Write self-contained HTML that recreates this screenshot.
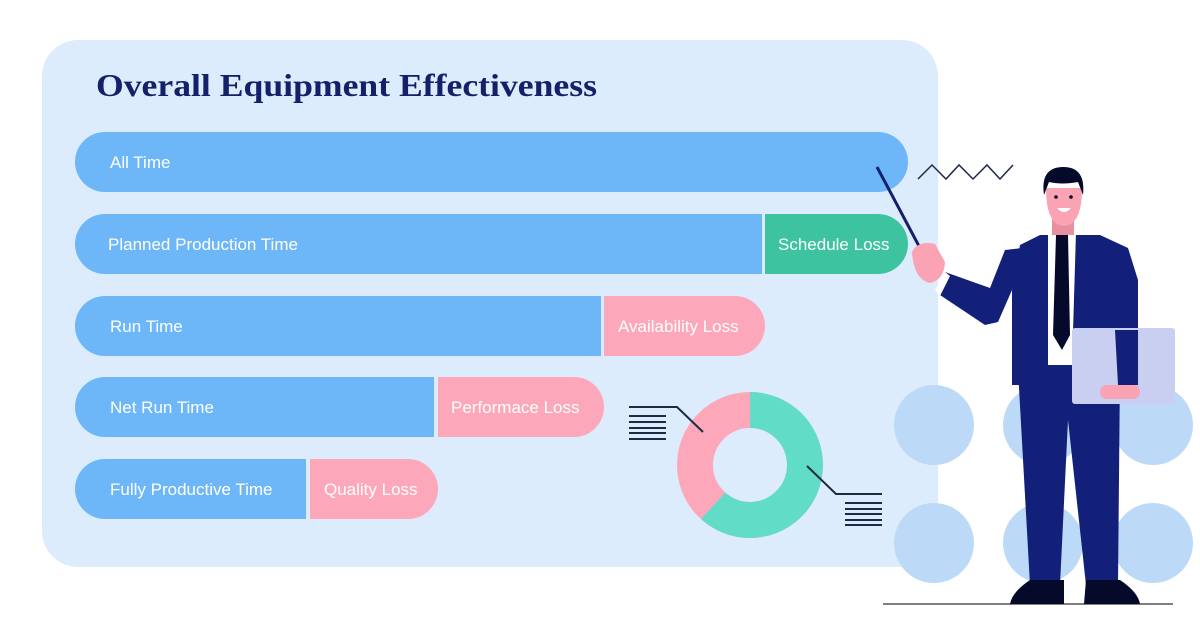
<!DOCTYPE html>
<html><head><meta charset="utf-8"><style>
html,body{margin:0;padding:0;background:#fff;}
svg{display:block;}
text{font-family:"Liberation Sans",sans-serif;}
</style></head><body>
<svg width="1200" height="627" viewBox="0 0 1200 627" xmlns="http://www.w3.org/2000/svg">
<rect x="42" y="40" width="896" height="527" rx="36" fill="#dcecfc"/>
<text x="96" y="96" font-family="Liberation Serif,serif" font-weight="bold" font-size="32" fill="#14206a" textLength="501" lengthAdjust="spacingAndGlyphs" style="font-family:'Liberation Serif',serif">Overall Equipment Effectiveness</text>

<!-- bars -->
<rect x="75" y="132" width="833" height="60" rx="30" fill="#6db7f9"/>
<text x="110" y="168" font-size="17" fill="#fff">All Time</text>

<rect x="765" y="214" width="143" height="60" rx="30" fill="#3ec3a0"/>
<rect x="765" y="214" width="40" height="60" fill="#3ec3a0"/>
<path d="M105 214 H762 V274 H105 A30 30 0 0 1 105 214Z" fill="#6db7f9"/>
<text x="108" y="250" font-size="17" fill="#fff">Planned Production Time</text>
<text x="778" y="250" font-size="17" fill="#fff">Schedule Loss</text>

<rect x="604" y="296" width="161" height="60" rx="30" fill="#fda8ba"/>
<rect x="604" y="296" width="40" height="60" fill="#fda8ba"/>
<path d="M105 296 H601 V356 H105 A30 30 0 0 1 105 296Z" fill="#6db7f9"/>
<text x="110" y="332" font-size="17" fill="#fff">Run Time</text>
<text x="618" y="332" font-size="17" fill="#fff">Availability Loss</text>

<rect x="438" y="377" width="166" height="60" rx="30" fill="#fda8ba"/>
<rect x="438" y="377" width="40" height="60" fill="#fda8ba"/>
<path d="M105 377 H434 V437 H105 A30 30 0 0 1 105 377Z" fill="#6db7f9"/>
<text x="110" y="413" font-size="17" fill="#fff">Net Run Time</text>
<text x="451" y="413" font-size="17" fill="#fff">Performace Loss</text>

<rect x="310" y="459" width="128" height="60" rx="30" fill="#fda8ba"/>
<rect x="310" y="459" width="40" height="60" fill="#fda8ba"/>
<path d="M105 459 H306 V519 H105 A30 30 0 0 1 105 459Z" fill="#6db7f9"/>
<text x="110" y="495" font-size="17" fill="#fff">Fully Productive Time</text>
<text x="324" y="495" font-size="17" fill="#fff">Quality Loss</text>

<!-- donut -->
<g transform="translate(750,465)">
<circle r="55" fill="none" stroke="#fda8ba" stroke-width="36"/>
<circle r="55" fill="none" stroke="#61dcc6" stroke-width="36" stroke-dasharray="213 400" transform="rotate(-90)"/>
</g>
<g stroke="#1e2a44" stroke-width="2" fill="none">
<polyline points="629,407 677,407 703,432"/>
<line x1="629" y1="416" x2="666" y2="416"/><line x1="629" y1="422" x2="666" y2="422"/><line x1="629" y1="428" x2="666" y2="428"/><line x1="629" y1="433" x2="666" y2="433"/><line x1="629" y1="439" x2="666" y2="439"/>
<polyline points="807,466 836,494 882,494"/>
<line x1="845" y1="503" x2="882" y2="503"/><line x1="845" y1="509" x2="882" y2="509"/><line x1="845" y1="514" x2="882" y2="514"/><line x1="845" y1="520" x2="882" y2="520"/><line x1="845" y1="525" x2="882" y2="525"/>
</g>

<!-- circles -->
<g fill="#bcdaf7">
<circle cx="934" cy="425" r="40"/><circle cx="1043" cy="425" r="40"/><circle cx="1153" cy="425" r="40"/>
<circle cx="934" cy="543" r="40"/><circle cx="1043" cy="543" r="40"/><circle cx="1153" cy="543" r="40"/>
</g>

<!-- zigzag & pointer -->
<polyline points="918,179 932,165 946,179 959,165 973,179 987,165 1000,179 1013,165" fill="none" stroke="#1e2a44" stroke-width="1.5"/>
<line x1="877" y1="167" x2="920" y2="248" stroke="#14206a" stroke-width="3"/>

<!-- man -->
<line x1="883" y1="604" x2="1173" y2="604" stroke="#555" stroke-width="1.5"/>
<!-- legs -->
<polygon points="1018,370 1120,370 1118,585 1086,585 1068,420 1060,585 1030,585" fill="#13207a"/>
<!-- shoes -->
<path d="M1030,580 H1064 V604 H1010 Q1012,592 1030,580Z" fill="#050a2a"/>
<path d="M1086,580 H1120 Q1138,592 1140,604 H1084Z" fill="#050a2a"/>
<!-- torso -->
<polygon points="1040,235 1100,235 1128,248 1138,280 1138,385 1012,385 1012,290 1020,245" fill="#13207a"/>
<!-- arm -->
<polygon points="1022,248 1012,290 998,322 985,325 940,295 945,272 990,288 1005,250" fill="#13207a"/>
<polygon points="935,290 945,272 950,276 940,296" fill="#fff"/>
<!-- hand -->
<path d="M912,252 Q918,240 935,244 L945,262 Q944,280 930,283 Q914,280 912,252Z" fill="#f9a3b5"/>
<!-- shirt & tie -->
<polygon points="1048,232 1076,232 1072,365 1048,365" fill="#fff"/>
<polygon points="1056,235 1068,235 1070,335 1062,350 1053,335" fill="#050a2a"/>
<!-- neck & head -->
<rect x="1052" y="215" width="22" height="20" fill="#e8909f"/>
<path d="M1046,188 Q1046,225 1064,226 Q1082,225 1082,188Z" fill="#f9a3b5"/>
<path d="M1044,195 Q1040,168 1062,167 Q1086,166 1083,195 L1078,182 Q1062,185 1049,182Z" fill="#050a2a"/>
<circle cx="1056" cy="197" r="1.8" fill="#050a2a"/><circle cx="1071" cy="197" r="1.8" fill="#050a2a"/>
<path d="M1057,208 Q1064,216 1071,208Z" fill="#fff"/>
<!-- tablet -->
<rect x="1072" y="328" width="103" height="76" rx="3" fill="#c9cff0"/>
<rect x="1100" y="385" width="40" height="14" rx="7" fill="#f9a3b5"/>
<polygon points="1115,330 1138,330 1138,385 1118,385" fill="#13207a"/>
</svg>
</body></html>
